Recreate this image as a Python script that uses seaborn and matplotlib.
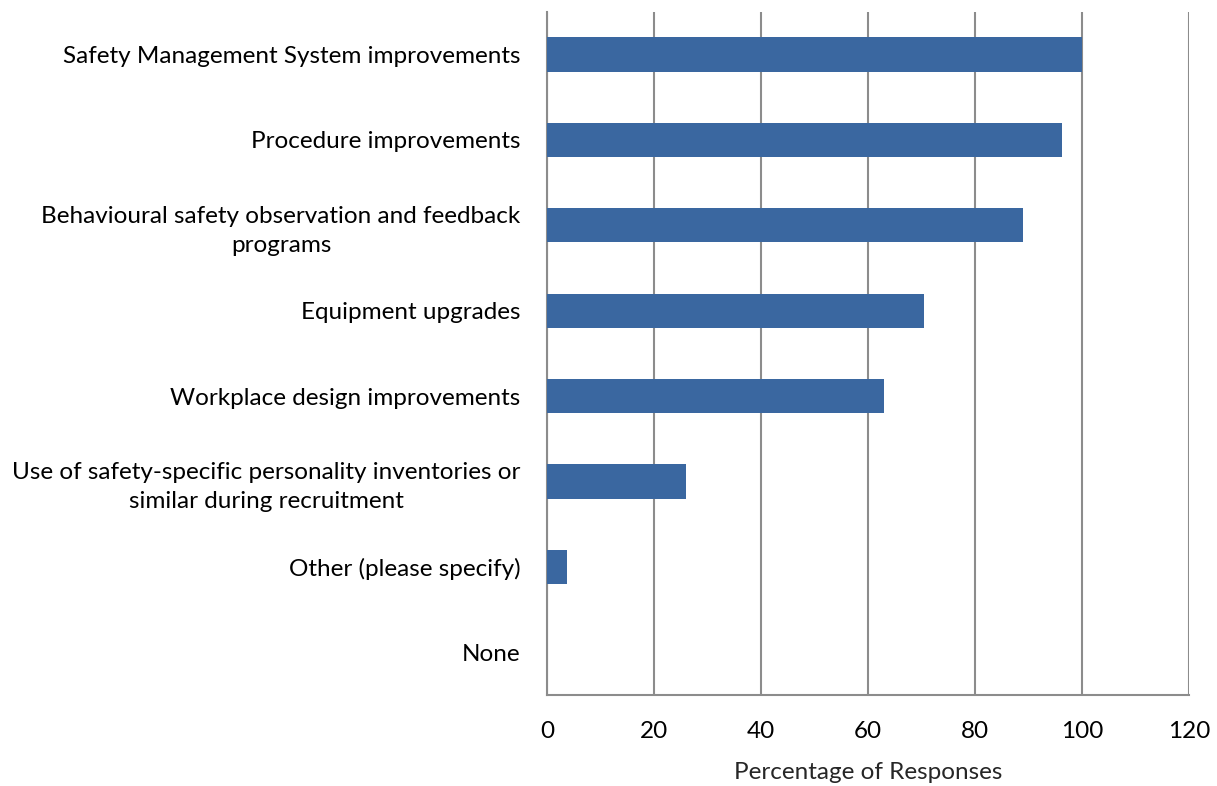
import matplotlib
matplotlib.use("Agg")
import matplotlib.pyplot as plt
import seaborn as sns
import pandas as pd

# Survey categories and share of responses (%)
categories = [
    "Safety Management System improvements",
    "Procedure improvements",
    "Behavioural safety observation and feedback\nprograms",
    "Equipment upgrades",
    "Workplace design improvements",
    "Use of safety-specific personality inventories or\nsimilar during recruitment",
    "Other (please specify)",
    "None",
]
percentages = [100.0, 96.3, 88.9, 70.4, 63.0, 25.9, 3.7, 0.0]
x_ticks = [0, 20, 40, 60, 80, 100, 120]

df = pd.DataFrame({"category": categories, "pct": percentages})

sns.set_style("white")
plt.rcParams["font.family"] = ["Lato", "DejaVu Sans"]

fig = plt.figure(figsize=(12.17, 7.86), dpi=100)
ax = fig.add_axes([0.4495, 0.1158, 0.5275, 0.8692])

sns.barplot(data=df, x="pct", y="category", color="#3A67A0", width=0.40,
            saturation=1, linewidth=0, ax=ax, zorder=3)

ax.set_xlim(0, 120)
ax.set_xticks(x_ticks)
ax.set_xticklabels([str(t) for t in x_ticks])
ax.grid(axis="x", color="#8c8c8c", linewidth=1.5, zorder=0)
ax.grid(axis="y", visible=False)

for side in ["top", "right"]:
    ax.spines[side].set_visible(False)
for side in ["left", "bottom"]:
    ax.spines[side].set_color("#8c8c8c")
    ax.spines[side].set_linewidth(1.5)

ax.tick_params(axis="both", length=0, labelsize=17.5, colors="black")
ax.tick_params(axis="y", pad=19)
ax.tick_params(axis="x", pad=19)
for lbl in ax.get_yticklabels():
    lbl.set_multialignment("center")
    lbl.set_linespacing(1.45)

ax.set_ylabel("")
ax.set_xlabel("Percentage of Responses", fontsize=17.5, labelpad=14)

fig.savefig("out.png", dpi=100)
